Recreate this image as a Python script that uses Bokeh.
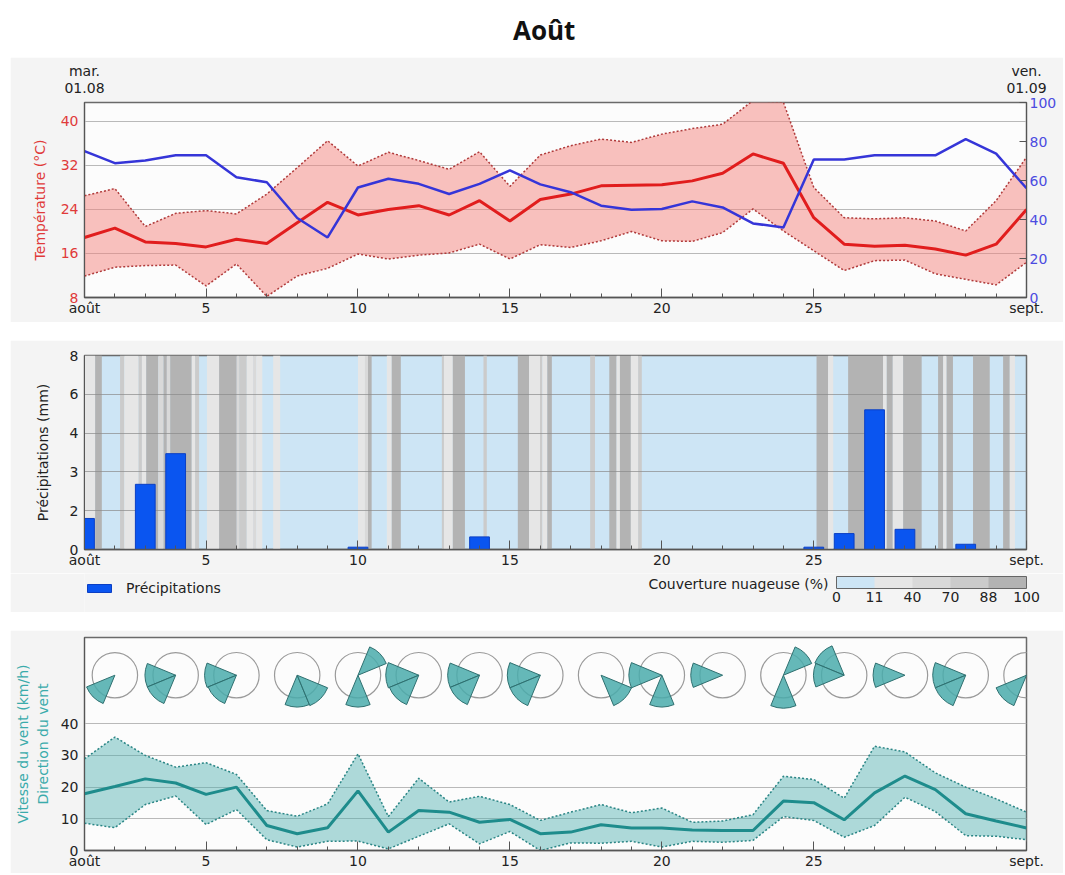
import numpy as np
from bokeh.plotting import figure
from bokeh.models import (Range1d, LinearAxis, FixedTicker, Legend, ColorBar,
                          LinearColorMapper, Label, Div, Spacer)
from bokeh.layouts import column
from bokeh.embed import file_html
from bokeh.resources import INLINE

FONT = "DejaVu Sans"

# ---------------- data ----------------
days = list(range(1, 33))
x_major_ticks = [1, 5, 10, 15, 20, 25, 32]
x_label_overrides = {1: "août", 32: "sept."}
top_weekdays = {1: "mar.", 32: "ven."}
top_dates = {1: "01.08", 32: "01.09"}

temp_mean = [18.9, 20.6, 18.1, 17.8, 17.2, 18.6, 17.8, 21.6, 25.3, 23.0, 24.0, 24.7, 23.0, 25.6, 21.9, 25.8,
             26.8, 28.3, 28.4, 28.5, 29.2, 30.6, 34.1, 32.4, 22.5, 17.7, 17.3, 17.5, 16.8, 15.7, 17.7, 24.0]
temp_max = [26.5, 27.8, 20.9, 23.3, 23.8, 23.2, 26.8, 31.6, 36.5, 31.9, 34.4, 32.9, 31.3, 34.5, 28.2, 33.9,
            35.6, 36.8, 36.2, 37.7, 38.7, 39.5, 43.8, 43.5, 28.0, 22.5, 22.3, 22.5, 21.9, 20.1, 25.6, 33.5]
temp_min = [11.9, 13.5, 13.8, 13.9, 10.1, 14.1, 8.2, 11.9, 13.3, 15.9, 15.0, 15.7, 16.1, 17.7, 15.0, 17.6,
            17.1, 18.3, 20.0, 18.3, 18.2, 19.8, 24.1, 20.1, 16.5, 12.9, 14.7, 14.8, 12.3, 11.3, 10.3, 14.4]
rel_humidity = [75.1, 68.9, 70.3, 72.9, 72.9, 61.7, 59.1, 40.8, 30.8, 56.4, 60.9, 58.3, 53.1, 58.3, 65.2, 58.0,
                54.0, 47.1, 45.0, 45.4, 49.3, 46.2, 38.0, 35.9, 70.8, 70.8, 72.9, 72.9, 72.9, 81.2, 73.8, 56.0]
temp_ticks = [8, 16, 24, 32, 40]
rh_ticks = [0, 20, 40, 60, 80, 100]

precip_days = list(range(1, 32))
precip_mm = [1.6, 0, 2.68, 3.47, 0, 0, 0, 0, 0, 0.12, 0, 0, 0, 0.65, 0, 0, 0, 0, 0, 0, 0, 0, 0, 0,
             0.12, 0.82, 5.2, 1.04, 0, 0.27, 0]
precip_tick_values = [0, 2, 3, 4, 6, 8]

cloud_start = [1.00, 1.35, 2.17, 2.31, 2.78, 2.89, 3.03, 3.43, 3.60, 3.71, 3.82, 4.53, 4.64, 5.03, 5.43, 6.01,
               6.09, 6.34, 6.55, 6.65, 7.21, 10.00, 10.23, 10.33, 10.95, 11.11, 12.76, 12.83, 13.12, 14.13,
               15.26, 15.63, 15.99, 16.07, 16.23, 17.64, 18.27, 18.51, 18.62, 18.98, 19.22, 25.09, 25.47,
               26.13, 27.28, 27.40, 27.60, 27.94, 29.09, 29.26, 29.37, 30.24, 31.23, 31.45]
cloud_end = [1.35, 1.57, 2.31, 2.78, 2.89, 3.03, 3.43, 3.60, 3.71, 3.82, 4.53, 4.64, 4.77, 5.43, 6.01, 6.09,
             6.34, 6.55, 6.65, 6.85, 7.44, 10.23, 10.33, 10.45, 11.11, 11.41, 12.83, 13.12, 13.52, 14.24,
             15.63, 15.99, 16.07, 16.23, 16.38, 17.80, 18.51, 18.62, 18.98, 19.22, 19.34, 25.47, 25.64,
             27.28, 27.40, 27.60, 27.94, 28.55, 29.26, 29.37, 29.58, 30.79, 31.45, 31.62]
cloud_class = [1, 4, 3, 1, 3, 1, 4, 2, 4, 2, 4, 1, 3, 1, 4, 2,
               3, 1, 2, 1, 1, 1, 2, 4, 1, 4, 3, 1, 4, 3,
               4, 1, 3, 1, 4, 3, 4, 1, 4, 1, 3, 4, 1,
               4, 1, 4, 1, 4, 4, 1, 4, 4, 4, 1]
cloud_class_labels = ["0", "11", "40", "70", "88", "100"]
cloud_colors = ["#cde5f5", "#e6e6e6", "#d9d9d9", "#cbcbcb", "#b3b3b3"]

wind_mean = [17.9, 20.2, 22.6, 21.3, 17.7, 20.0, 7.9, 5.3, 7.2, 18.8, 5.8, 12.6, 12.1, 8.9, 9.8, 5.3,
             5.8, 8.1, 7.1, 7.1, 6.5, 6.3, 6.3, 15.6, 15.1, 9.7, 18.2, 23.5, 19.2, 11.6, 9.3, 7.1]
wind_max = [28.9, 35.8, 30.0, 26.3, 27.7, 24.0, 12.6, 10.8, 14.7, 30.5, 10.7, 22.8, 15.3, 17.1, 14.5, 9.5,
            12.1, 14.5, 11.9, 13.4, 8.9, 9.3, 11.3, 23.4, 22.4, 16.5, 32.9, 31.1, 24.5, 20.0, 16.3, 12.1]
wind_min = [8.6, 7.2, 14.5, 17.2, 8.2, 12.9, 3.4, 1.1, 2.9, 3.0, 0.5, 4.5, 8.4, 2.1, 6.0, 0.0,
            2.4, 2.3, 2.9, 1.1, 2.9, 2.6, 3.2, 10.7, 9.5, 4.2, 7.9, 16.8, 12.3, 4.7, 4.5, 3.4]
wind_ticks = [0, 10, 20, 30, 40]

rose_days = list(range(2, 33, 2))
rose_level = 55.3
sector_day = [2, 4, 4, 6, 6, 8, 8, 10, 10, 12, 12, 14, 14, 16, 16, 18, 20, 20, 22, 24, 24, 26, 26, 28,
              30, 30, 32, 32]
sector_bearing = [225, 270, 225, 270, 225, 180, 135, 45, 180, 270, 225, 270, 225, 270, 225, 135, 270, 180,
                  270, 45, 180, 315, 270, 270, 270, 225, 90, 225]
sector_len = [1.35, 1.35, 1.35, 1.4, 1.35, 1.4, 1.45, 1.35, 1.4, 1.45, 1.4, 1.4, 1.4, 1.45, 1.45, 1.45,
              1.45, 1.4, 1.4, 1.35, 1.45, 1.4, 1.35, 1.4, 1.45, 1.45, 1.4, 1.45]

# ---------------- layout constants ----------------
W = 1053
FW = 942
LB, RB = 74, 37
PANEL = "#f4f4f4"
FRAME_BG = "#fcfcfc"
RING = 22.7
PRECIP_COLOR = "#0a55f0"
PRECIP_EDGE = "#0b3fc4"


def base_fig(frame_h, top, bottom, y_range):
    p = figure(output_backend="svg", toolbar_location=None, frame_width=FW, frame_height=frame_h,
               min_border_left=LB, min_border_right=RB, min_border_top=top, min_border_bottom=bottom,
               x_range=Range1d(1, 32), y_range=y_range)
    p.border_fill_color = PANEL
    p.background_fill_color = FRAME_BG
    p.outline_line_color = "#6a6a6a"
    p.outline_line_width = 1.5
    p.xgrid.visible = False
    xa = p.xaxis[0]
    xa.ticker = FixedTicker(ticks=x_major_ticks, minor_ticks=days)
    xa.major_label_overrides = x_label_overrides
    xa.major_tick_in = 9
    xa.major_tick_out = 0
    xa.minor_tick_in = 4
    xa.minor_tick_out = 0
    xa.axis_line_color = "#555555"
    xa.axis_line_width = 1.5
    xa.major_tick_line_color = "#555555"
    xa.minor_tick_line_color = "#555555"
    xa.major_label_standoff = 2
    xa.major_label_text_font = FONT
    xa.major_label_text_font_size = "14px"
    xa.major_label_text_color = "#222222"
    ya = p.yaxis[0]
    ya.major_tick_in = 0
    ya.major_tick_out = 0
    ya.minor_tick_line_color = None
    ya.axis_line_color = "#555555"
    ya.major_label_standoff = 6
    ya.major_label_text_font = FONT
    ya.major_label_text_font_size = "14px"
    ya.axis_label_text_font = FONT
    ya.axis_label_text_font_size = "14px"
    ya.axis_label_text_font_style = "normal"
    return p


def top_axis(overrides, standoff):
    ax = LinearAxis(ticker=FixedTicker(ticks=list(overrides.keys())), major_label_overrides=overrides)
    ax.axis_line_color = None
    ax.major_tick_line_color = None
    ax.minor_tick_line_color = None
    ax.major_tick_in = 0
    ax.major_tick_out = 0
    ax.major_label_standoff = standoff
    ax.major_label_text_font = FONT
    ax.major_label_text_font_size = "14px"
    ax.major_label_text_color = "#222222"
    return ax


# ---------------- title ----------------
title = Div(text='<div style="font-family:\'Open Sans\';font-weight:bold;font-size:26px;'
                 'line-height:60px;padding-left:503px;color:#111;white-space:nowrap;">Août</div>',
            width=W, height=57, margin=(0, 0, 0, 0))

# ---------------- panel 1: temperature ----------------
p1 = base_fig(195, 45, 25, Range1d(8, 43.45))
p1.extra_y_ranges = {"rh": Range1d(0, 100)}
p1.ygrid.ticker = FixedTicker(ticks=[16, 24, 32, 40])
p1.ygrid.grid_line_color = "#b9b9b9"
ya = p1.yaxis[0]
ya.ticker = FixedTicker(ticks=temp_ticks)
ya.major_label_text_color = "#e03a3a"
ya.axis_label = "Température (°C)"
ya.axis_label_text_color = "#e03a3a"
ya.axis_label_standoff = 10

ra = LinearAxis(y_range_name="rh", ticker=FixedTicker(ticks=rh_ticks))
ra.major_tick_in = 7
ra.major_tick_out = 0
ra.minor_tick_line_color = None
ra.major_tick_line_color = "#555555"
ra.axis_line_color = "#555555"
ra.major_label_standoff = 3
ra.major_label_text_font = FONT
ra.major_label_text_font_size = "14px"
ra.major_label_text_color = "#4b4be0"
p1.add_layout(ra, "right")

p1.add_layout(top_axis(top_dates, 10), "above")
p1.add_layout(top_axis(top_weekdays, 1), "above")

p1.varea(x=days, y1=temp_min, y2=temp_max, fill_color="#f4837d", fill_alpha=0.5)
p1.line(days, temp_max, line_color="#b03a3a", line_width=1.5, line_dash="2 2")
p1.line(days, temp_min, line_color="#b03a3a", line_width=1.5, line_dash="2 2")
p1.line(days, temp_mean, line_color="#e11d1d", line_width=3)
p1.line(days, rel_humidity, line_color="#3535d8", line_width=2.5, y_range_name="rh")

# ---------------- panel 2: precipitation & cloud cover ----------------
pos_ticks = list(range(len(precip_tick_values)))
p2 = base_fig(194, 15, 24, Range1d(0, pos_ticks[-1]))
p2.background_fill_color = cloud_colors[0]
ya = p2.yaxis[0]
ya.ticker = FixedTicker(ticks=pos_ticks)
ya.major_label_overrides = {i: str(v) for i, v in zip(pos_ticks, precip_tick_values)}
ya.major_label_text_color = "#222222"
ya.axis_label = "Précipitations (mm)"
ya.axis_label_text_color = "#222222"
ya.axis_label_standoff = 16
p2.ygrid.ticker = FixedTicker(ticks=pos_ticks[1:-1])
p2.ygrid.grid_line_color = "#8a8a8a"
p2.ygrid.grid_line_alpha = 0.7

stripes = p2.quad(left=cloud_start, right=cloud_end, bottom=0, top=pos_ticks[-1],
                  fill_color=[cloud_colors[c] for c in cloud_class], line_color=None)
stripes.level = "image"

bar_x = [d for d, v in zip(precip_days, precip_mm) if v > 0]
bar_top = [float(np.interp(v, precip_tick_values, pos_ticks)) for v in precip_mm if v > 0]
p2.vbar(x=bar_x, top=bar_top, bottom=0, width=0.65, fill_color=PRECIP_COLOR, line_color=PRECIP_EDGE)

# legend strip under panel 2
lf = figure(output_backend="svg", toolbar_location=None, frame_width=FW, frame_height=39,
            min_border_left=LB, min_border_right=RB, min_border_top=0, min_border_bottom=0,
            x_range=Range1d(0, 1), y_range=Range1d(0, 1), x_axis_location=None, y_axis_location=None)
lf.border_fill_color = PANEL
lf.background_fill_color = PANEL
lf.outline_line_color = None
lf.grid.visible = False
# legend key renderer (placed outside the visible range; only its legend swatch shows)
key = lf.vbar(x=[-10], top=[0], bottom=[0], width=0.1, fill_color=PRECIP_COLOR, line_color=PRECIP_EDGE)
leg = Legend(items=[("Précipitations", [key])], location=(0, 16), orientation="horizontal",
             glyph_width=30, glyph_height=10, label_standoff=12,
             label_text_font=FONT, label_text_font_size="14px", label_text_color="#222222",
             background_fill_alpha=0, border_line_color=None, padding=0, margin=0)
lf.add_layout(leg)
lf.add_layout(Label(x=744, y=29, x_units="screen", y_units="screen", text="Couverture nuageuse (%)",
                    text_align="right", text_baseline="middle", text_font=FONT, text_font_size="14px",
                    text_color="#222222"))
mapper = LinearColorMapper(palette=cloud_colors, low=0, high=len(cloud_colors))
cb = ColorBar(color_mapper=mapper, orientation="horizontal", width=190, height=12, location=(752, 8),
              ticker=FixedTicker(ticks=list(range(len(cloud_class_labels)))),
              major_label_overrides={i: s for i, s in enumerate(cloud_class_labels)},
              padding=0, margin=0, background_fill_alpha=0, bar_line_color="#666666",
              major_tick_line_color=None, label_standoff=3, major_label_text_font=FONT,
              major_label_text_font_size="14px", major_label_text_color="#222222", border_line_color=None)
lf.add_layout(cb)

# ---------------- panel 3: wind ----------------
p3 = base_fig(213, 7, 23, Range1d(0, 67.2))
ya = p3.yaxis[0]
ya.ticker = FixedTicker(ticks=wind_ticks)
ya.major_label_text_color = "#222222"
ya.axis_label = "Vitesse du vent (km/h)\nDirection du vent"
ya.axis_label_text_color = "#3aabab"
ya.axis_label_standoff = 7
p3.ygrid.ticker = FixedTicker(ticks=wind_ticks[1:])
p3.ygrid.grid_line_color = "#b9b9b9"

p3.varea(x=days, y1=wind_min, y2=wind_max, fill_color="#4db0b0", fill_alpha=0.45)
p3.line(days, wind_max, line_color="#2a8585", line_width=1.5, line_dash="2 2")
p3.line(days, wind_min, line_color="#2a8585", line_width=1.5, line_dash="2 2")
p3.line(days, wind_mean, line_color="#1e8c8c", line_width=3)

p3.scatter(x=rose_days, y=[rose_level] * len(rose_days), marker="circle", size=2 * RING,
           fill_color=None, line_color="#9a9a9a", line_width=1.2)
math_deg = np.array([90 - b for b in sector_bearing], dtype=float)
p3.wedge(x=sector_day, y=[rose_level] * len(sector_day), radius=[RING * s for s in sector_len],
         radius_units="screen", start_angle=np.radians(math_deg - 22.5), end_angle=np.radians(math_deg + 22.5),
         fill_color="#4aabab", fill_alpha=0.85, line_color="#2f7070", line_width=1)

layout = column(title, p1, Spacer(width=W, height=18, margin=0), p2, lf,
                Spacer(width=W, height=18, margin=0), p3, margin=(0, 0, 0, 10))

with open("out.html", "w") as f:
    f.write(file_html(layout, INLINE, title="Août"))
